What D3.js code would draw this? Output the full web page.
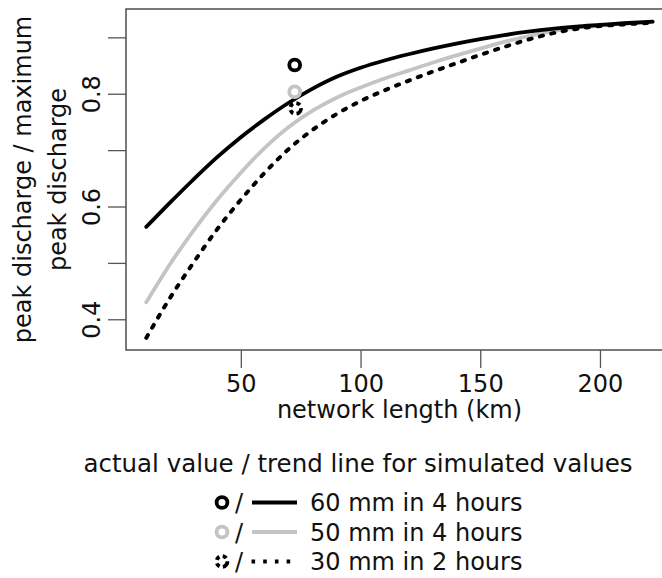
<!DOCTYPE html>
<html>
<head>
<meta charset="utf-8">
<script src="https://cdn.jsdelivr.net/npm/d3@7"></script>
<style>
  html, body { margin: 0; padding: 0; background: #fff; }
  svg { display: block; font-family: "DejaVu Sans", sans-serif; }
</style>
</head>
<body>
<svg id="chart" width="662" height="578"></svg>
<script>
// ---- data ----
const networkLength = [10.5, 20, 30, 40, 50, 60, 70, 80, 90, 100, 110, 120, 130, 140, 150, 160, 170, 180, 190, 200, 210, 222];
const trend60mm4h = [0.564, 0.605, 0.647, 0.687, 0.723, 0.755, 0.784, 0.809, 0.830, 0.846, 0.859, 0.870, 0.880, 0.889, 0.897, 0.904, 0.910, 0.915, 0.919, 0.922, 0.925, 0.928];
const trend50mm4h = [0.430, 0.495, 0.556, 0.611, 0.660, 0.704, 0.741, 0.770, 0.793, 0.811, 0.827, 0.841, 0.855, 0.868, 0.880, 0.892, 0.902, 0.911, 0.917, 0.921, 0.924, 0.927];
const trend30mm2h = [0.367, 0.435, 0.499, 0.559, 0.612, 0.660, 0.702, 0.736, 0.764, 0.787, 0.806, 0.823, 0.839, 0.854, 0.869, 0.883, 0.896, 0.907, 0.915, 0.920, 0.923, 0.926];
const actualLength = [72.5, 72.5, 72.9];
const actualValue = [0.851, 0.8035, 0.774];
const seriesNames = ["60 mm in 4 hours", "50 mm in 4 hours", "30 mm in 2 hours"];
const xTicks = [50, 100, 150, 200];
const yTicks = [0.4, 0.5, 0.6, 0.7, 0.8, 0.9];
const yTickLabels = ["0.4", "", "0.6", "", "0.8", ""];
const xTitle = "network length (km)";
const yTitle1 = "peak discharge / maximum";
const yTitle2 = "peak discharge";
const legendTitle = "actual value / trend line for simulated values";

(function () {
// ---- layout ----
const svg = d3.select("#chart");
const pLeft = 126, pRight = 673, pTop = 9, pBottom = 350;
const x = d3.scaleLinear().domain([2.04, 230.5]).range([pLeft, pRight]);
const y = d3.scaleLinear().domain([0.3455, 0.9503]).range([pBottom, pTop]);

const styles = [
  { color: "#000000", dash: null, circleDash: null },
  { color: "#c4c4c4", dash: null, circleDash: null },
  { color: "#000000", dash: "3.2 8.5", circleDash: "4.2 3.2" }
];
const trends = [trend60mm4h, trend50mm4h, trend30mm2h];

// frame
svg.append("rect")
  .attr("x", pLeft).attr("y", pTop)
  .attr("width", pRight - pLeft).attr("height", pBottom - pTop)
  .attr("fill", "none").attr("stroke", "#333").attr("stroke-width", 1.3);

// axes
const xAxis = d3.axisBottom(x).tickValues(xTicks).tickSize(18).tickPadding(4);
const gx = svg.append("g").attr("transform", `translate(0,${pBottom})`).call(xAxis);
gx.select(".domain").remove();
gx.selectAll(".tick line").attr("stroke", "#555").attr("stroke-width", 1.3);
gx.selectAll(".tick text").attr("font-size", 24).attr("fill", "#111")
  .attr("font-family", "DejaVu Sans").attr("dy", null).attr("y", 42);

const yAxis = d3.axisLeft(y).tickValues(yTicks).tickSize(18).tickFormat((d, i) => yTickLabels[i]);
const gy = svg.append("g").attr("transform", `translate(${pLeft},0)`).call(yAxis);
gy.select(".domain").remove();
gy.selectAll(".tick line").attr("stroke", "#555").attr("stroke-width", 1.3);
gy.selectAll(".tick text")
  .attr("font-size", 24).attr("fill", "#111").attr("font-family", "DejaVu Sans")
  .attr("x", null).attr("dy", null)
  .attr("text-anchor", "middle")
  .attr("transform", "translate(-26,0) rotate(-90)");

// axis titles
svg.append("text").attr("x", (pLeft + pRight) / 2).attr("y", 418)
  .attr("text-anchor", "middle").attr("font-size", 24).attr("fill", "#111").text(xTitle);
const cy = (pTop + pBottom) / 2;
svg.append("text").attr("transform", `translate(31,${cy}) rotate(-90)`)
  .attr("text-anchor", "middle").attr("font-size", 24).attr("fill", "#111").text(yTitle1);
svg.append("text").attr("transform", `translate(66,${cy}) rotate(-90)`)
  .attr("text-anchor", "middle").attr("font-size", 24).attr("fill", "#111").text(yTitle2);

// trend lines
svg.append("clipPath").attr("id", "clip").append("rect")
  .attr("x", pLeft).attr("y", pTop).attr("width", pRight - pLeft).attr("height", pBottom - pTop);
const line = d3.line().curve(d3.curveMonotoneX)
  .x((d, i) => x(networkLength[i])).y(d => y(d));
const plot = svg.append("g").attr("clip-path", "url(#clip)");
[1, 2, 0].forEach(k => {
  plot.append("path")
    .attr("d", line(trends[k]))
    .attr("fill", "none")
    .attr("stroke", styles[k].color)
    .attr("stroke-width", k === 2 ? 4 : 3.8)
    .attr("stroke-linecap", "round")
    .attr("stroke-dasharray", styles[k].dash);
});

// actual values
[1, 2, 0].forEach(k => {
  const cx = x(actualLength[k]), cyy = y(actualValue[k]);
  plot.append("circle")
    .attr("cx", cx).attr("cy", cyy).attr("r", 5.4)
    .attr("fill", "none").attr("stroke", styles[k].color).attr("stroke-width", 3.8)
    .attr("stroke-dasharray", styles[k].circleDash)
    .attr("transform", k === 2 ? `rotate(35,${cx},${cyy})` : null);
});

// legend
svg.append("text").attr("x", 358).attr("y", 472)
  .attr("text-anchor", "middle").attr("font-size", 24.5).attr("fill", "#111").text(legendTitle);
const rowY = [511, 540.5, 570];
seriesNames.forEach((name, k) => {
  const g = svg.append("g").attr("transform", `translate(0,${rowY[k]})`);
  const mid = -8.5;
  g.append("circle").attr("cx", 222).attr("cy", mid).attr("r", 5.4)
    .attr("fill", "none").attr("stroke", styles[k].color).attr("stroke-width", 3.8)
    .attr("stroke-dasharray", styles[k].circleDash)
    .attr("transform", k === 2 ? `rotate(35,222,${mid})` : null);
  g.append("text").attr("x", 235).attr("y", 0).attr("font-size", 24).attr("fill", "#111").text("/");
  g.append("line").attr("x1", k === 2 ? 251.5 : 252).attr("x2", 297).attr("y1", mid).attr("y2", mid)
    .attr("stroke", styles[k].color).attr("stroke-width", 3.8)
    .attr("stroke-dasharray", k === 2 ? "3.6 8.1" : null);
  g.append("text").attr("x", 310).attr("y", 0).attr("font-size", 24).attr("fill", "#111").text(name);
});
})();
</script>
</body>
</html>
